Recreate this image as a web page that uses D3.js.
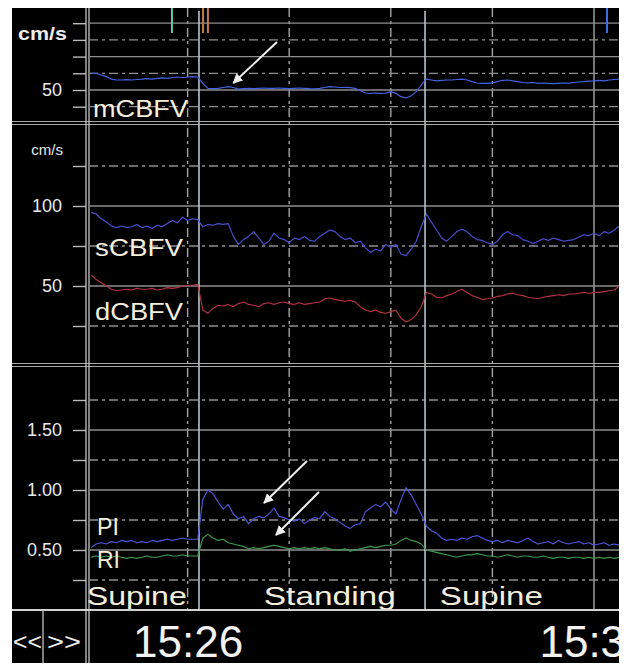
<!DOCTYPE html>
<html>
<head>
<meta charset="utf-8">
<script src="https://cdn.jsdelivr.net/npm/d3@7/dist/d3.min.js"></script>
<style>
  body { margin: 0; background: #fff; }
  svg { display: block; font-family: "Liberation Sans", Arial, sans-serif; }
</style>
</head>
<body>
<svg id="chart" width="624" height="665"></svg>
<script>
// DATA //
// samples: minutes after 15:00, one every 0.05 min
var sampleStart = 25.05,
	sampleStep = 0.05;

var mCBFV = [
	60, 60, 59, 58, 56.5, 56, 56, 56.2, 56, 56.3,
	56.5, 56.8, 56.5, 57, 57.3, 57, 57.5, 57.8, 57.5, 57.8,
	58, 57.8, 54, 51, 50.8, 51, 51.5, 52, 51.5, 50.5,
	50.8, 51, 50.8, 51, 51.2, 51, 51, 51.2, 51, 50.8,
	51, 51.2, 51, 50.8, 50.7, 51, 51.5, 52, 51.8, 51.5,
	51.6, 51.4, 51, 49.5, 48.2, 48, 48.2, 48, 48.1, 49,
	48, 46, 45.2, 46.5, 49, 53, 56.5, 56, 55.5, 55.8,
	56, 56, 56.3, 56.5, 56, 55, 54.2, 54, 54, 54.3,
	55, 55.8, 56, 55.5, 55, 54.5, 54.3, 54.5, 54, 54.2,
	54, 53.8, 54, 54.2, 54, 54.5, 54.8, 55, 55.3, 55.5,
	55.8, 55.5, 56, 56.3, 56.5
];

var sCBFV = [
	96, 95, 92, 90, 87.5, 86.5, 87.5, 86.5, 87, 88.5,
	86.5, 87.5, 86, 88, 87, 89, 91, 89.5, 93, 91,
	92, 91.5, 87, 88.5, 88, 89, 88.5, 89, 81, 76,
	79, 81, 84, 80, 76, 78, 83, 80, 79, 77,
	80, 79, 81, 78.5, 78, 81, 83, 85, 84, 81,
	79, 80, 77, 78, 74, 71, 73, 72, 76, 74,
	76, 70, 69, 73, 78, 87, 95, 90, 85, 80,
	78, 81, 84, 85.5, 84, 81, 79, 78.5, 77, 76,
	78, 82, 84, 82, 81.5, 79, 78, 76.5, 78, 79.5,
	78.5, 80, 79, 78, 78.5, 79, 80.5, 82, 81.5, 83,
	81.5, 84, 83, 85, 87.5
];

var dCBFV = [
	57, 54, 52, 50, 48, 47, 47.5, 48, 47.5, 48.5,
	48, 48, 48.5, 47.5, 48, 49, 48.5, 49, 50, 50.5,
	50.5, 51, 35, 33, 36, 38, 37.5, 38.5, 37, 39,
	40, 38.5, 38, 37, 39, 39.5, 38.5, 39.5, 40, 39,
	38.5, 39.5, 38.5, 39, 39.5, 40, 42, 42.5, 41.5, 41,
	40.5, 41, 40, 37, 35, 34, 35, 33.5, 33, 34,
	35, 30, 27.5, 29, 32, 37, 46, 45, 43, 42.5,
	44, 45, 46.5, 48, 46, 44, 43, 41.5, 42, 42.5,
	43.5, 44, 45, 45.5, 44.5, 44, 43, 42.5, 42, 43,
	43.5, 44, 44.5, 44, 45, 45, 45.5, 46, 45.5, 46,
	46, 46.5, 47, 47.5, 50
];

var PI = [
	0.52, 0.55, 0.56, 0.55, 0.57, 0.56, 0.58, 0.57, 0.58, 0.56,
	0.57, 0.56, 0.58, 0.57, 0.58, 0.59, 0.58, 0.59, 0.60, 0.59,
	0.59, 0.59, 0.92, 1.00, 0.97, 0.90, 0.84, 0.88, 0.80, 0.76,
	0.78, 0.72, 0.76, 0.78, 0.77, 0.80, 0.85, 0.78, 0.77, 0.75,
	0.74, 0.76, 0.72, 0.75, 0.77, 0.76, 0.82, 0.78, 0.76, 0.73,
	0.70, 0.68, 0.71, 0.72, 0.82, 0.85, 0.88, 0.86, 0.90, 0.84,
	0.80, 0.92, 1.02, 0.96, 0.88, 0.80, 0.70, 0.66, 0.64, 0.60,
	0.58, 0.59, 0.58, 0.60, 0.59, 0.61, 0.62, 0.60, 0.58, 0.57,
	0.58, 0.56, 0.58, 0.57, 0.56, 0.58, 0.60, 0.57, 0.55, 0.56,
	0.57, 0.55, 0.58, 0.56, 0.55, 0.56, 0.57, 0.55, 0.56, 0.54,
	0.55, 0.56, 0.54, 0.55, 0.54
];

var RI = [
	0.44, 0.45, 0.44, 0.45, 0.44, 0.45, 0.44, 0.43, 0.44, 0.43,
	0.44, 0.45, 0.44, 0.44, 0.45, 0.46, 0.45, 0.45, 0.46, 0.45,
	0.45, 0.45, 0.60, 0.63, 0.60, 0.58, 0.59, 0.56, 0.55, 0.54,
	0.53, 0.51, 0.52, 0.51, 0.52, 0.53, 0.54, 0.53, 0.52, 0.51,
	0.52, 0.51, 0.52, 0.51, 0.52, 0.51, 0.52, 0.51, 0.50, 0.50,
	0.51, 0.49, 0.50, 0.51, 0.52, 0.53, 0.52, 0.53, 0.54, 0.54,
	0.55, 0.58, 0.60, 0.58, 0.57, 0.55, 0.50, 0.49, 0.48, 0.47,
	0.46, 0.45, 0.44, 0.45, 0.46, 0.46, 0.47, 0.46, 0.45, 0.45,
	0.44, 0.45, 0.46, 0.45, 0.44, 0.45, 0.45, 0.44, 0.44, 0.45,
	0.44, 0.43, 0.44, 0.44, 0.43, 0.44, 0.44, 0.43, 0.44, 0.43,
	0.44, 0.43, 0.44, 0.43, 0.44
];

// axis ticks per panel (major = solid grid + label, minor = dash-dot grid)
var mMajor = [50, 70, 90],  mMinor = [40, 60, 80],  mLabels = [50];
var sMajor = [50, 100],     sMinor = [25, 75, 125], sLabels = [50, 100];
var iMajor = [0.5, 1.0, 1.5], iMinor = [0.25, 0.75, 1.25, 1.75], iLabels = [0.5, 1.0, 1.5];

// time axis
var minuteTicks = [26, 27, 28, 29];
var fiveMinuteTicks = [30];
var timeLabels = [26, 30];

// posture changes and labels
var postureChanges = [26.112, 28.337];
var postureNames = ['Supine', 'Standing', 'Supine'];
var postureLabelTimes = [25.5, 27.4, 28.99];
var postureLabelWidths = [100, 132, 103];

// event markers at top of screen
var markerTimes = [25.846, 26.152, 26.2, 30.128];
var markerColors = ['#5fc9b2', '#c27a48', '#c27a48', '#3b6fe2'];

// arrows [tailTime, tailValue, headTime, headValue]
var mArrows = [[26.88, 78.7, 26.45, 54.2]];
var iArrows = [[27.175, 1.242, 26.752, 0.892], [27.293, 0.983, 26.87, 0.625]];


// LAYOUT //
var svg = d3.select('#chart');
var scr = { left: 12, top: 8, right: 619, bottom: 663 };
var rowY = 610;

var x = d3.scaleLinear().domain([25, 30]).range([86, 594]);

var panels = [
	{ top: scr.top, bottom: 123,
		y: d3.scaleLinear().domain([40, 90]).range([106.7, 23.2]),
		major: mMajor, minor: mMinor, labels: mLabels, fmt: d3.format('d'),
		series: [{ values: mCBFV, color: '#4563e6' }] },
	{ top: 123, bottom: 365,
		y: d3.scaleLinear().domain([25, 125]).range([326, 166]),
		major: sMajor, minor: sMinor, labels: sLabels, fmt: d3.format('d'),
		series: [{ values: sCBFV, color: '#4b52d2' }, { values: dCBFV, color: '#b3323f' }] },
	{ top: 365, bottom: rowY,
		y: d3.scaleLinear().domain([0.25, 1.75]).range([580, 400]),
		major: iMajor, minor: iMinor, labels: iLabels, fmt: d3.format('.2f'),
		series: [{ values: PI, color: '#4d57dc' }, { values: RI, color: '#3d9c50' }] }
];

var dash = '9,4,3,4';

// screen background
svg.append('rect')
	.attr('x', scr.left).attr('y', scr.top)
	.attr('width', scr.right - scr.left).attr('height', scr.bottom - scr.top)
	.attr('fill', '#000');

var defs = svg.append('defs');
defs.append('clipPath').attr('id', 'plotClip')
	.append('rect')
	.attr('x', 90).attr('y', scr.top)
	.attr('width', scr.right - 90).attr('height', rowY - scr.top);
defs.append('clipPath').attr('id', 'scrClip')
	.append('rect')
	.attr('x', scr.left).attr('y', scr.top)
	.attr('width', scr.right - scr.left).attr('height', scr.bottom - scr.top);
defs.append('marker')
	.attr('id', 'head')
	.attr('viewBox', '0 0 10 10')
	.attr('refX', 9).attr('refY', 5)
	.attr('markerWidth', 5).attr('markerHeight', 5)
	.attr('orient', 'auto')
  .append('path')
	.attr('d', 'M0,0L10,5L0,10Z')
	.attr('fill', '#eeeeee');

var plot = svg.append('g').attr('clip-path', 'url(#plotClip)');

// vertical grid
plot.selectAll('line.vminor')
	.data(minuteTicks)
  .enter().append('line')
	.attr('x1', x).attr('x2', x)
	.attr('y1', scr.top).attr('y2', rowY)
	.attr('stroke', '#a4a4a4').attr('stroke-width', 1.4)
	.attr('stroke-dasharray', dash);

plot.selectAll('line.vmajor')
	.data(fiveMinuteTicks)
  .enter().append('line')
	.attr('x1', x).attr('x2', x)
	.attr('y1', scr.top).attr('y2', rowY)
	.attr('stroke', '#a6a6a6').attr('stroke-width', 1.4);

panels.forEach(function (p) {
	var g = plot.append('g');

	g.selectAll('line.major')
		.data(p.major)
	  .enter().append('line')
		.attr('x1', 89).attr('x2', scr.right)
		.attr('y1', p.y).attr('y2', p.y)
		.attr('stroke', '#8e8e8e').attr('stroke-width', 1.3);

	g.selectAll('line.minor')
		.data(p.minor)
	  .enter().append('line')
		.attr('x1', 89).attr('x2', scr.right)
		.attr('y1', p.y).attr('y2', p.y)
		.attr('stroke', '#8e8e8e').attr('stroke-width', 1.3)
		.attr('stroke-dasharray', dash);

	// left axis
	var axis = d3.axisLeft(p.y)
		.tickValues(p.major.concat(p.minor))
		.tickSize(13)
		.tickPadding(11)
		.tickFormat(function (v) {
			return p.labels.indexOf(v) >= 0 ? p.fmt(v) : '';
		});

	var ag = svg.append('g')
		.attr('transform', 'translate(86,0)')
		.call(axis);
	ag.select('.domain').remove();
	ag.selectAll('line').attr('stroke', '#b8b8b8').attr('stroke-width', 1.4);
	ag.selectAll('text')
		.attr('fill', '#e8e8e8')
		.style('font-size', '18px')
		.style('font-family', '"Liberation Sans", Arial, sans-serif');
});

// panel separators
[123, 365].forEach(function (yy) {
	svg.append('line')
		.attr('x1', scr.left).attr('x2', scr.right)
		.attr('y1', yy - 1.5).attr('y2', yy - 1.5)
		.attr('stroke', '#a8a8a8').attr('stroke-width', 1.2);
	svg.append('line')
		.attr('x1', scr.left).attr('x2', scr.right)
		.attr('y1', yy + 1.5).attr('y2', yy + 1.5)
		.attr('stroke', '#a8a8a8').attr('stroke-width', 1.2);
});

// posture change lines
plot.selectAll('line.event')
	.data(postureChanges)
  .enter().append('line')
	.attr('x1', x).attr('x2', x)
	.attr('y1', scr.top + 3).attr('y2', rowY)
	.attr('stroke', '#b3c6cb').attr('stroke-width', 1.6);

// top markers
plot.selectAll('line.marker')
	.data(markerTimes)
  .enter().append('line')
	.attr('x1', x).attr('x2', x)
	.attr('y1', scr.top).attr('y2', 33)
	.attr('stroke', function (d, i) { return markerColors[i]; })
	.attr('stroke-width', 2);

// traces
panels.forEach(function (p) {
	p.series.forEach(function (s) {
		var line = d3.line()
			.x(function (d, i) { return x(sampleStart + i * sampleStep); })
			.y(function (d) { return p.y(d); });
		plot.append('path')
			.datum(s.values)
			.attr('d', line)
			.attr('fill', 'none')
			.attr('stroke', s.color)
			.attr('stroke-width', 1.15)
			.attr('stroke-linejoin', 'round');
	});
});

// arrows
function drawArrows(list, y) {
	svg.selectAll(null)
		.data(list)
	  .enter().append('line')
		.attr('x1', function (d) { return x(d[0]); })
		.attr('y1', function (d) { return y(d[1]); })
		.attr('x2', function (d) { return x(d[2]); })
		.attr('y2', function (d) { return y(d[3]); })
		.attr('stroke', '#eeeeee').attr('stroke-width', 2)
		.attr('marker-end', 'url(#head)');
}
drawArrows(mArrows, panels[0].y);
drawArrows(iArrows, panels[2].y);

// left axis double line
[86, 89].forEach(function (xx) {
	svg.append('line')
		.attr('x1', xx).attr('x2', xx)
		.attr('y1', scr.top).attr('y2', scr.bottom)
		.attr('stroke', '#c4c4c4').attr('stroke-width', 1.3);
});

// unit labels
svg.append('text')
	.attr('x', 67).attr('y', 40)
	.attr('text-anchor', 'end')
	.attr('textLength', 49).attr('lengthAdjust', 'spacingAndGlyphs')
	.attr('fill', '#ececec')
	.style('font-size', '18px').style('font-weight', 'bold')
	.text('cm/s');
svg.append('text')
	.attr('x', 63).attr('y', 155)
	.attr('text-anchor', 'end')
	.attr('fill', '#e6e6e6')
	.style('font-size', '15px')
	.text('cm/s');

// series names
var names = [
	{ text: 'mCBFV', x: 93, y: 117, w: 95 },
	{ text: 'sCBFV', x: 95, y: 256, w: 88 },
	{ text: 'dCBFV', x: 95, y: 320, w: 88 },
	{ text: 'PI', x: 97, y: 535, w: 22 },
	{ text: 'RI', x: 97, y: 568, w: 23 }
];
svg.selectAll('text.name')
	.data(names)
  .enter().append('text')
	.attr('x', function (d) { return d.x; })
	.attr('y', function (d) { return d.y; })
	.attr('textLength', function (d) { return d.w; })
	.attr('lengthAdjust', 'spacingAndGlyphs')
	.attr('fill', '#f3efdc')
	.style('font-size', '23px')
	.text(function (d) { return d.text; });

// posture labels
svg.selectAll('text.posture')
	.data(postureNames)
  .enter().append('text')
	.attr('x', function (d, i) { return x(postureLabelTimes[i]); })
	.attr('y', 605)
	.attr('text-anchor', 'middle')
	.attr('textLength', function (d, i) { return postureLabelWidths[i]; })
	.attr('lengthAdjust', 'spacingAndGlyphs')
	.attr('fill', '#f3efdc')
	.style('font-size', '26px')
	.text(function (d) { return d; });

// time row
svg.append('line')
	.attr('x1', scr.left).attr('x2', scr.right)
	.attr('y1', rowY).attr('y2', rowY)
	.attr('stroke', '#d2d2d2').attr('stroke-width', 2);
svg.append('line')
	.attr('x1', 43).attr('x2', 43)
	.attr('y1', rowY).attr('y2', scr.bottom)
	.attr('stroke', '#c4c4c4').attr('stroke-width', 1.3);

var tAxis = d3.axisBottom(x)
	.tickValues(minuteTicks.concat(fiveMinuteTicks))
	.tickSize(5)
	.tickFormat(function (v) {
		return timeLabels.indexOf(v) >= 0 ? '15:' + v : '';
	});
var tg = svg.append('g')
	.attr('transform', 'translate(0,' + rowY + ')')
	.attr('clip-path', 'url(#scrClip)')
	.call(tAxis);
tg.select('.domain').remove();
tg.selectAll('line').attr('stroke', '#c8c8c8').attr('stroke-width', 1.3);
tg.selectAll('text')
	.attr('y', 47).attr('dy', 0)
	.attr('fill', '#f2f2f2')
	.style('font-size', '44px')
	.style('font-family', '"Liberation Sans", Arial, sans-serif');

svg.append('text')
	.attr('x', 13).attr('y', 650)
	.attr('textLength', 29).attr('lengthAdjust', 'spacingAndGlyphs')
	.attr('fill', '#eeeeee').style('font-size', '24px')
	.text('<<');
svg.append('text')
	.attr('x', 47).attr('y', 650)
	.attr('textLength', 34).attr('lengthAdjust', 'spacingAndGlyphs')
	.attr('fill', '#eeeeee').style('font-size', '24px')
	.text('>>');
</script>
</body>
</html>
